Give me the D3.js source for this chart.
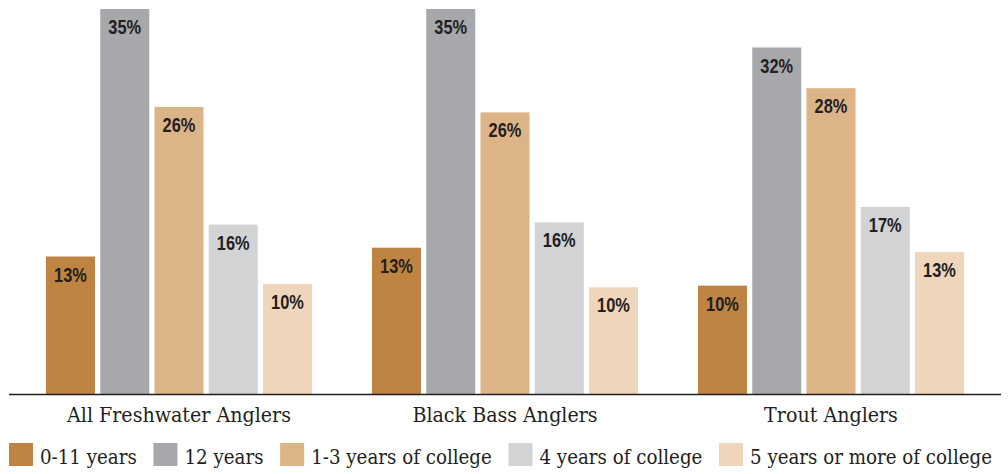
<!DOCTYPE html>
<html>
<head>
<meta charset="utf-8">
<script src="https://cdn.jsdelivr.net/npm/d3@7"></script>
<style>
  html, body { margin: 0; padding: 0; background: #fff; }
  svg { display: block; }
</style>
</head>
<body>
<svg id="chart" width="1008" height="474"></svg>
<script>
// ---- data ----
const groups = ["All Freshwater Anglers", "Black Bass Anglers", "Trout Anglers"];
const series = ["0-11 years", "12 years", "1-3 years of college", "4 years of college", "5 years or more of college"];
// bar heights (percent)
const allFreshwater = [12.5, 35.0, 26.1, 15.4, 10.0];
const blackBass     = [13.3, 35.0, 25.6, 15.6, 9.7];
const trout         = [9.85, 31.5, 27.8, 17.0, 12.9];
// printed labels
const allFreshwaterLabels = ["13%", "35%", "26%", "16%", "10%"];
const blackBassLabels     = ["13%", "35%", "26%", "16%", "10%"];
const troutLabels         = ["10%", "32%", "28%", "17%", "13%"];
const colors = ["#bf8442", "#a7a8ac", "#dcb487", "#d1d3d5", "#efd6bb"];

const valuesByGroup = [allFreshwater, blackBass, trout];
const labelsByGroup = [allFreshwaterLabels, blackBassLabels, troutLabels];

// ---- layout ----
const svg = d3.select("#chart");
const baseY = 394;

const x0 = d3.scaleBand().domain(groups).range([16, 994])
  .paddingInner(0.184).paddingOuter(0.092);
const x1 = d3.scaleBand().domain(series).range([0, x0.bandwidth()])
  .paddingInner(0.0968).paddingOuter(0);
const y = d3.scaleLinear().domain([0, 35]).range([baseY, 9]);
const color = d3.scaleOrdinal().domain(series).range(colors);

const data = groups.map((g, gi) => ({
  group: g,
  bars: series.map((s, si) => ({ series: s, value: valuesByGroup[gi][si], label: labelsByGroup[gi][si] }))
}));

const gGroups = svg.selectAll("g.group").data(data).join("g")
  .attr("class", "group")
  .attr("transform", d => `translate(${x0(d.group)},0)`);

gGroups.selectAll("rect").data(d => d.bars).join("rect")
  .attr("x", d => x1(d.series))
  .attr("y", d => y(d.value))
  .attr("width", x1.bandwidth())
  .attr("height", d => y(0) - y(d.value))
  .attr("fill", d => color(d.series));

// condensed bold value labels (horizontally compressed)
const squeeze = 0.82;
gGroups.selectAll("text.val").data(d => d.bars).join("text")
  .attr("class", "val")
  .attr("transform", d => `translate(${x1(d.series) + x1.bandwidth() / 2},${y(d.value) + 25}) scale(${squeeze},1)`)
  .attr("text-anchor", "middle")
  .style("font-family", "'Liberation Sans', Arial, sans-serif")
  .style("font-weight", "bold")
  .style("font-size", "20px")
  .attr("fill", "#231f20")
  .text(d => d.label);

// axis
const axis = d3.axisBottom(x0).tickSize(0).tickPadding(0);
const axisG = svg.append("g").attr("transform", `translate(0,${baseY})`).call(axis);
axisG.select(".domain").remove();
svg.append("line")
  .attr("x1", 9).attr("x2", 1001)
  .attr("y1", baseY + 0.5).attr("y2", baseY + 0.5)
  .attr("stroke", "#231f20").attr("stroke-width", 1.6);
axisG.selectAll(".tick text")
  .attr("y", 28)
  .attr("dy", 0)
  .style("font-family", "'DejaVu Serif Condensed', 'DejaVu Serif', serif")
  .style("font-size", "21.2px")
  .attr("fill", "#231f20");

// legend, spread across full width
const legendY = 443;
const boxSize = 23;
const legendFont = "'DejaVu Serif Condensed', 'DejaVu Serif', serif";
const leg = svg.append("g");
const items = leg.selectAll("g").data(series).join("g");
items.append("rect")
  .attr("width", boxSize + 1).attr("height", boxSize)
  .attr("fill", d => color(d));
items.append("text")
  .attr("x", boxSize + 8)
  .attr("y", 21)
  .style("font-family", legendFont)
  .style("font-size", "20.3px")
  .attr("fill", "#231f20")
  .text(d => d);
const widths = [];
items.each(function () { widths.push(this.getBBox().width); });
const left = 9, right = 992;
const total = d3.sum(widths);
const gap = (right - left - total) / (series.length - 1);
let cx = left;
items.attr("transform", (d, i) => {
  const t = `translate(${cx},${legendY})`;
  cx += widths[i] + gap;
  return t;
});
</script>
</body>
</html>
